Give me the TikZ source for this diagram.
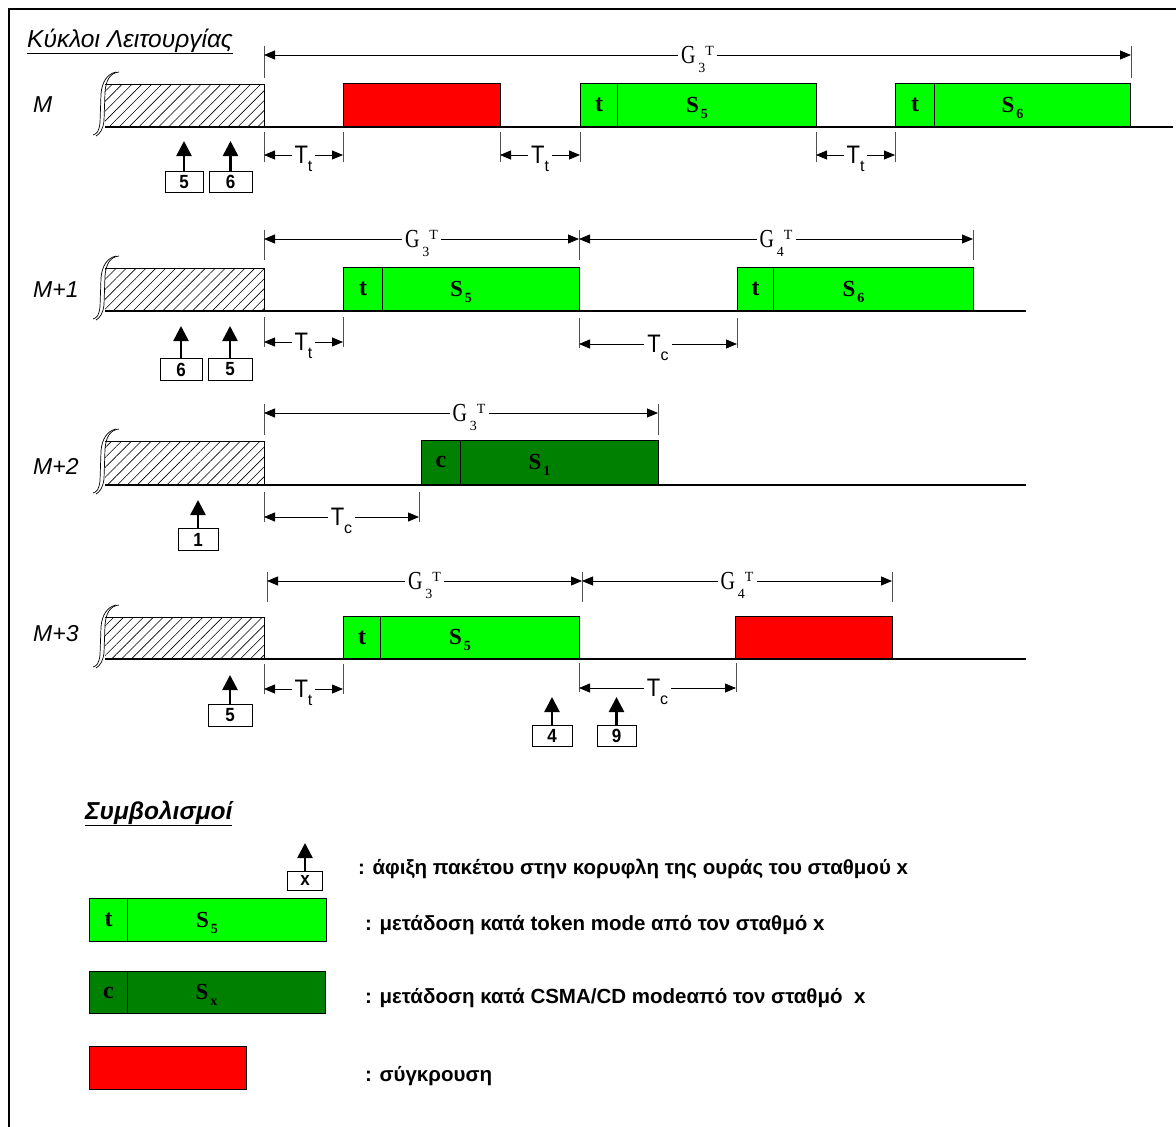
\documentclass[tikz,border=0pt]{standalone}
\usepackage{fontspec}
\usepackage{graphicx}
\setmainfont{Liberation Sans}
\newfontfamily\timesfont{Liberation Serif}
\usetikzlibrary{arrows.meta,patterns.meta}

\definecolor{tokgreen}{RGB}{0,255,0}
\definecolor{csmagreen}{RGB}{0,128,0}
\definecolor{collred}{RGB}{255,0,0}
\definecolor{tickgray}{RGB}{80,80,80}

\newcommand{\fs}[1]{\fontsize{#1}{#1}\selectfont}
% G_i^T span label
\newcommand{\Gspan}[1]{{\timesfont\fs{20}\scalebox{1}[1.3]{G}\hspace{3pt}\smash{\raisebox{-9pt}{\fs{14}#1}}\smash{\raisebox{8pt}{\fs{14}T}}}}
% T_t / T_c span label
\newcommand{\Tspan}[1]{{\fs{22}\scalebox{1}[1.15]{T}\smash{\raisebox{-8pt}{\fs{16}#1}}}}
% station label S_x inside a slot
\newcommand{\Slab}[1]{{\timesfont\bfseries\fs{23}S\hspace{2pt}\smash{\raisebox{-6pt}{\fs{14}#1}}}}

\tikzset{
  x=1pt, y=-1pt,
  baseline/.style={line width=1.3pt},
  slot/.style={draw=black, line width=1.1pt, inner sep=0pt, anchor=south west},
  tokslot/.style={slot, fill=tokgreen},
  csmaslot/.style={slot, fill=csmagreen},
  collslot/.style={slot, fill=collred},
  slottext/.style={font=\timesfont\bfseries\fs{24}, inner sep=0pt},
  hatch/.style={pattern={Lines[angle=45,distance=7pt,line width=0.6pt]}},
  edge/.style={line width=0.8pt},
  squig/.style={line width=0.7pt},
  tickmark/.style={line width=0.8pt, draw=tickgray},
  dimarrow/.style={line width=0.8pt, {Triangle[length=11pt,width=9pt]}-{Triangle[length=11pt,width=9pt]}},
  dimlabel/.style={fill=white, inner sep=3pt},
  arrbox/.style={draw, line width=0.9pt, inner sep=0pt, font=\bfseries\fs{17}},
  arrival/.style={line width=2.6pt, -{Triangle[length=15pt,width=15pt]}},
  rowlabel/.style={font=\itshape\fs{23}, anchor=base west, inner sep=0pt},
  legtext/.style={font=\bfseries\fs{20.5}, anchor=west, inner sep=0pt},
}

% slot: name, style, x-left, x-right, y-bottom, height
\newcommand{\putslot}[6]{\node[#2, minimum width={#4pt-#3pt}, minimum height=#6pt] (#1) at (#3,#5) {};}
% span arrow: name, x1, x2, y, tick top, tick bottom, label, label shift
\newcommand{\spanarrow}[8]{%
  \coordinate (#1L) at (#2,#4);
  \coordinate (#1R) at (#3,#4);
  \draw[tickmark] (#2,#5) -- (#2,#6);
  \draw[tickmark] (#3,#5) -- (#3,#6);
  \draw[dimarrow] (#1L) -- (#1R);
  \path (#1L) -- node[dimlabel, xshift=#8pt] (#1T) {#7} (#1R);
}
% arrival: name, centre x, box top, width, height, tip y, station
\newcommand{\arrival}[7]{%
  \node[arrbox, minimum width=#4pt, minimum height=#5pt, anchor=north] (#1) at (#2,#3) {\scalebox{1}[1.12]{#7}};
  \coordinate (#1tip) at (#2,#6);
  \draw[arrival] (#1) -- (#1tip);
}
% cycle start: top, baseline, right end of time axis
\newcommand{\cyclestart}[3]{%
  \fill[hatch] (105,#1) rectangle (264,#2);
  \draw[edge] (105,#1) -- (264,#1) -- (264,#2);
  \draw[squig] (119,#1-12) .. controls (110,#1-11) and (106,#1-4) .. (105,#1+8) -- (104,#2-6) .. controls (103,#2+2) and (100,#2+7) .. (96,#2+9);
  \draw[squig] (116,#1-12) .. controls (107,#1-10) and (102,#1-2) .. (101,#1+10) -- (100,#2-4) .. controls (99,#2+4) and (97,#2+7) .. (93,#2+8);
  \draw[baseline] (105,#2) -- (#3,#2);
}

\begin{document}
\begin{tikzpicture}
\useasboundingbox (0,0) rectangle (1176,1127);
\fill[white] (0,0) rectangle (1176,1127);
\draw[line width=2.2pt] (9,1200) -- (9,9) -- (1200,9);

\node[anchor=base west, font=\itshape\fs{24.5}, inner sep=0pt] (title) at (27,47) {\underline{Κύκλοι Λειτουργίας}};

% ---------------- cycle M ----------------
\node[rowlabel] (lM) at (33,112) {M};
\cyclestart{84}{127}{1173}
\putslot{mC}{collslot}{343}{500}{127}{43}
\putslot{mT1}{tokslot}{580}{617}{127}{43}
\putslot{mS1}{tokslot}{617}{816}{127}{43}
\putslot{mT2}{tokslot}{895}{934}{127}{43}
\putslot{mS2}{tokslot}{934}{1130}{127}{43}
\node[slottext] at (mT1.center) {t};
\node[slottext, xshift=-20pt] at (mS1.center) {\Slab{5}};
\node[slottext] at (mT2.center) {t};
\node[slottext, xshift=-20pt] at (mS2.center) {\Slab{6}};
\spanarrow{mG}{264}{1131}{55}{46}{78}{\Gspan{3}}{0}
\spanarrow{mTa}{264}{343}{155}{132}{162}{\Tspan{t}}{0}
\spanarrow{mTb}{500}{580}{155}{132}{162}{\Tspan{t}}{0}
\spanarrow{mTc}{816}{895}{155}{132}{162}{\Tspan{t}}{0}
\arrival{mA5}{184}{171}{38}{21}{141}{5}
\arrival{mA6}{230.5}{171}{43}{21}{141}{6}

% ---------------- cycle M+1 ----------------
\node[rowlabel] (lM1) at (33,297) {M+1};
\cyclestart{268}{311}{1026}
\putslot{aT1}{tokslot}{343}{382}{311}{43}
\putslot{aS1}{tokslot}{382}{579}{311}{43}
\putslot{aT2}{tokslot}{737}{773}{311}{43}
\putslot{aS2}{tokslot}{773}{973}{311}{43}
\node[slottext] at (aT1.center) {t};
\node[slottext, xshift=-20pt] at (aS1.center) {\Slab{5}};
\node[slottext] at (aT2.center) {t};
\node[slottext, xshift=-20pt] at (aS2.center) {\Slab{6}};
\spanarrow{aG3}{264}{579}{239}{230}{260}{\Gspan{3}}{0}
\spanarrow{aG4}{579}{973}{239}{230}{260}{\Gspan{4}}{0}
\spanarrow{aTt}{264}{343}{342}{317}{347}{\Tspan{t}}{0}
\spanarrow{aTc}{579}{737}{344}{318}{348}{\Tspan{c}}{0}
\arrival{aA6}{181}{358}{42}{22}{326}{6}
\arrival{aA5}{230}{358}{44}{22}{326}{5}

% ---------------- cycle M+2 ----------------
\node[rowlabel] (lM2) at (33,474) {M+2};
\cyclestart{441}{485}{1026}
\putslot{bC1}{csmaslot}{421}{460}{485}{44}
\putslot{bS1}{csmaslot}{460}{658}{485}{44}
\node[slottext] at (bC1.center) {c};
\node[slottext, xshift=-20pt] at (bS1.center) {\Slab{1}};
\spanarrow{bG3}{264}{658}{413}{404}{435}{\Gspan{3}}{8}
\spanarrow{bTc}{264}{419}{517}{492}{522}{\Tspan{c}}{0}
\arrival{bA1}{198}{528}{40}{22}{500}{1}

% ---------------- cycle M+3 ----------------
\node[rowlabel] (lM3) at (33,641) {M+3};
\cyclestart{617}{659}{1026}
\putslot{cT1}{tokslot}{343}{380}{659}{42}
\putslot{cS1}{tokslot}{380}{579}{659}{42}
\putslot{cC}{collslot}{735}{892}{659}{42}
\node[slottext] at (cT1.center) {t};
\node[slottext, xshift=-20pt] at (cS1.center) {\Slab{5}};
\spanarrow{cG3}{267}{582}{581}{572}{602}{\Gspan{3}}{0}
\spanarrow{cG4}{582}{892}{581}{572}{602}{\Gspan{4}}{0}
\spanarrow{cTt}{264}{343}{689}{664}{694}{\Tspan{t}}{0}
\spanarrow{cTc}{579}{736}{688}{663}{692}{\Tspan{c}}{0}
\arrival{cA5}{230}{704}{44}{22}{675}{5}
\arrival{cA4}{552}{725}{40}{21}{697}{4}
\arrival{cA9}{616.5}{725}{39}{21}{697}{9}

% ---------------- legend ----------------
\node[anchor=base west, font=\bfseries\itshape\fs{24.5}, inner sep=0pt] (legtitle) at (85,819) {\underline{Συμβολισμοί}};

\arrival{kA}{305}{871}{35}{19}{843}{x}
\node[legtext] (k1) at (358,869) {: άφιξη πακέτου στην κορυφλη της ουράς του σταθμού x};

\putslot{kT}{tokslot}{89}{127}{942}{43}
\putslot{kS}{tokslot}{127}{326}{942}{43}
\node[slottext] at (kT.center) {t};
\node[slottext, xshift=-20pt] at (kS.center) {\Slab{5}};
\node[legtext] (k2) at (365,925) {: μετάδοση κατά token mode από τον σταθμό x};

\putslot{kC}{csmaslot}{89}{127}{1014}{42}
\putslot{kX}{csmaslot}{127}{325}{1014}{42}
\node[slottext] at (kC.center) {c};
\node[slottext, xshift=-20pt] at (kX.center) {\Slab{x}};
\node[legtext] (k3) at (365,998) {: μετάδοση κατά CSMA/CD modeαπό τον σταθμό\ \ x};

\putslot{kR}{collslot}{89}{246}{1090}{43}
\node[legtext] (k4) at (365,1076) {: σύγκρουση};
\end{tikzpicture}
\end{document}
